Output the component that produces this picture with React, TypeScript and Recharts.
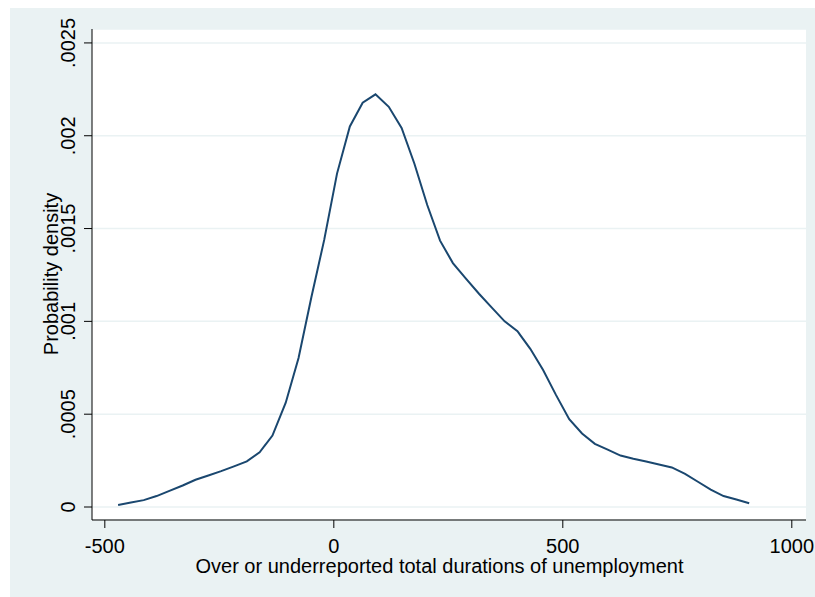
import { CartesianGrid, Line, LineChart, XAxis, YAxis } from "recharts";

// kernel density estimate evaluated on 50 points
const xValues = [
  -471, -443, -415, -387, -359, -330, -302, -274, -246, -218,
  -190, -162, -134, -105, -77, -49, -21, 7, 35, 63,
  91, 120, 148, 176, 204, 232, 260, 288, 317, 345,
  373, 401, 429, 457, 485, 514, 542, 570, 598, 626,
  654, 682, 710, 738, 767, 795, 823, 851, 879, 907,
];

const densities = [
  0.000011, 0.000024, 0.000037, 0.000059, 0.000087, 0.000116, 0.000147, 0.00017, 0.000193, 0.000219,
  0.000246, 0.000295, 0.000385, 0.000562, 0.000803, 0.00113, 0.001439, 0.001796, 0.00205, 0.002178,
  0.002223, 0.002156, 0.002042, 0.001849, 0.001627, 0.001435, 0.001314, 0.001232, 0.001149, 0.001074,
  0.001, 0.000947, 0.000852, 0.000738, 0.000604, 0.000473, 0.000396, 0.00034, 0.000309, 0.000277,
  0.00026, 0.000245, 0.000229, 0.000213, 0.000179, 0.000136, 0.000094, 0.000059, 0.00004, 0.00002,
];

const xTicks = [-500, 0, 500, 1000];
const yTicks = [0, 0.0005, 0.001, 0.0015, 0.002, 0.0025];
const yTickLabels = ["0", ".0005", ".001", ".0015", ".002", ".0025"];

const xTitle = "Over or underreported total durations of unemployment";
const yTitle = "Probability density";

const data = xValues.map((x, i) => ({ x, density: densities[i] }));

const FONT = "'Liberation Sans', Arial, sans-serif";
const BG = "#EAF2F3";
const NAVY = "#1A476F";

function XTick(props: any) {
  const { x, payload } = props;
  return (
    <text x={x} y={545} textAnchor="middle" fontFamily={FONT} fontSize={20} fill="#000">
      {payload.value}
    </text>
  );
}

function YTick(props: any) {
  const { y, payload } = props;
  const idx = yTicks.indexOf(payload.value);
  const label = idx >= 0 ? yTickLabels[idx] : String(payload.value);
  return (
    <text
      transform={`translate(65, ${y}) rotate(-90)`}
      textAnchor="middle"
      fontFamily={FONT}
      fontSize={20}
      fill="#000"
    >
      {label}
    </text>
  );
}

export default function App() {
  return (
    <div
      style={{
        position: "fixed",
        left: 10,
        top: 8,
        width: 805,
        height: 589,
        background: BG,
      }}
    >
      <LineChart width={805} height={589} data={data} margin={{ top: 21, right: 9, bottom: 0, left: 0 }}>
        <CartesianGrid fill="#fff" stroke={BG} strokeWidth={1.5} vertical={false} />
        <XAxis
          dataKey="x"
          type="number"
          domain={[-528, 1031]}
          ticks={xTicks}
          interval={0}
          allowDataOverflow
          height={77}
          tickSize={8}
          stroke="#000"
          tickLine={{ stroke: "#000" }}
          tick={<XTick />}
          label={{
            content: () => (
              <text x={429.5} y={565} textAnchor="middle" fontFamily={FONT} fontSize={20} fill="#000">
                {xTitle}
              </text>
            ),
          }}
        />
        <YAxis
          type="number"
          domain={[-0.00007, 0.002575]}
          ticks={yTicks}
          interval={0}
          allowDataOverflow
          width={82}
          tickSize={8}
          stroke="#000"
          tickLine={{ stroke: "#000" }}
          tick={<YTick />}
          label={{
            content: () => (
              <text
                transform="translate(48, 266) rotate(-90)"
                textAnchor="middle"
                fontFamily={FONT}
                fontSize={20}
                fill="#000"
              >
                {yTitle}
              </text>
            ),
          }}
        />
        <Line
          type="linear"
          dataKey="density"
          stroke={NAVY}
          strokeWidth={2}
          dot={false}
          activeDot={false}
          isAnimationActive={false}
        />
      </LineChart>
    </div>
  );
}
